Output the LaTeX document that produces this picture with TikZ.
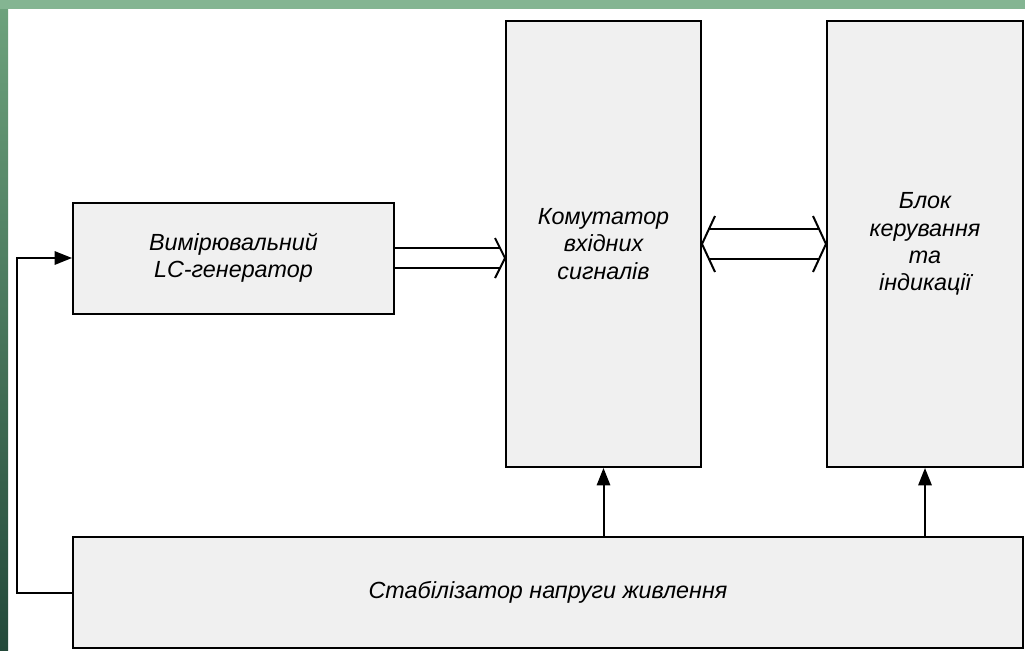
\documentclass[tikz,border=0pt]{standalone}
\usepackage{fontspec}
\setmainfont{Liberation Sans}
\usetikzlibrary{arrows.meta,positioning,calc}
\definecolor{frameA}{HTML}{84B592}
\definecolor{frameB}{HTML}{6EA37D}
\definecolor{frameC}{HTML}{23493A}
\tikzset{
  blk/.style={draw, fill=gray!12, align=center, line width=1.5pt,
              font=\itshape\fontsize{17.5}{20.5}\selectfont, inner sep=2pt},
  link/.style={-{Triangle[length=13pt,width=10pt]}, line width=1.5pt},
  bus/.style={line width=1.5pt, line join=miter}
}
\begin{document}
\begin{tikzpicture}[x=0.75pt,y=-0.75pt]
  \useasboundingbox (0,0) rectangle (1025,650);
  \fill[white] (0,0) rectangle (1025,650);
  \shade[top color=frameB, bottom color=frameC] (0,0) rectangle (8,650);
  \fill[frameA] (0,0) rectangle (1025,9);

  \node[blk, minimum width=240.75pt, minimum height=83.25pt] (gen) at (233.5,258) {Вимірювальний\\LC-генератор};
  \node[blk, minimum width=146.25pt, minimum height=334.5pt] (kom) at (603.5,244) {Комутатор\\вхідних\\сигналів};
  \node[blk, minimum width=147pt, minimum height=334.5pt] (blok) at (925,244) {Блок\\керування\\та\\індикації};
  \node[blk, minimum width=712.5pt, minimum height=83.25pt] (stab) at (548,592.5) {Стабілізатор напруги живлення};

  \coordinate (fb) at (17,592.5);
  \coordinate (kin) at (gen.east -| kom.west);

  \draw[link] (stab.north -| kom.south) -- (kom.south);
  \draw[link] (stab.north -| blok.south) -- (blok.south);
  \draw[link] (stab.west) -- (fb) |- (gen.west);

  % generator -> commutator
  \draw[bus] ($(gen.east)+(0,-10)$) -- ($(kin)+(-5,-10)$);
  \draw[bus] ($(gen.east)+(0,10)$) -- ($(kin)+(-5,10)$);
  \draw[bus] ($(kin)+(-10,-20)$) -- (kin) -- ($(kin)+(-10,20)$);

  % commutator <-> control
  \draw[bus] ($(kom.east)+(7,-15)$) -- ($(blok.west)+(-7,-15)$);
  \draw[bus] ($(kom.east)+(7,15)$) -- ($(blok.west)+(-7,15)$);
  \draw[bus] ($(kom.east)+(13,-28)$) -- (kom.east) -- ($(kom.east)+(13,28)$);
  \draw[bus] ($(blok.west)+(-13,-28)$) -- (blok.west) -- ($(blok.west)+(-13,28)$);
\end{tikzpicture}
\end{document}
